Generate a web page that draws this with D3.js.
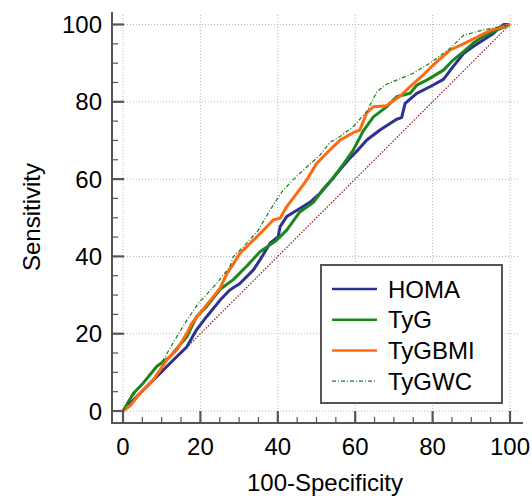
<!DOCTYPE html>
<html><head><meta charset="utf-8">
<script src="https://cdn.jsdelivr.net/npm/d3@7"></script>
<style>body{margin:0;background:#fff;} text{font-family:"Liberation Sans",Arial,sans-serif;}</style>
</head><body>
<svg id="c" width="532" height="497"></svg>
<script>
const seriesNames = ["HOMA", "TyG", "TyGBMI", "TyGWC"];
const xTicks = [0, 20, 40, 60, 80, 100];
const yTicks = [0, 20, 40, 60, 80, 100];
// [100-Specificity, Sensitivity]
const homa = [[0,0],[1,1.1],[3.5,3.7],[7.8,8],[13,13.2],[16.5,16.6],[19,21],[21.6,24.4],[25.1,28.7],[27.6,31.3],[30.2,33],[33.7,36.5],[35.4,39.1],[38,43.4],[40.1,45.1],[40.6,47.7],[42.3,50.3],[45.7,52.4],[48.3,54],[50.9,56.3],[53.5,59.3],[56.1,62.5],[58.7,65.5],[60.4,67.2],[63,70.1],[66.4,72.7],[70.7,75.5],[72,75.9],[72.9,79.6],[75.9,82.2],[79.3,83.9],[82.8,85.8],[85.3,89.1],[88,92.5],[90.5,94.3],[93.1,96],[95.7,97.7],[97.4,99.3],[98.4,100],[100,100]];
const tyg = [[0,0],[2.7,4.6],[5.2,7.2],[8.7,11.5],[12.1,14],[16.5,19.2],[19,24.4],[21.6,27],[25.1,31.5],[28.5,34],[32,37.5],[35.4,41.2],[39.7,44.2],[42.3,46.8],[45.7,51.5],[49.2,54],[51.8,57.5],[54.3,60.3],[56.9,63.8],[59.5,67.5],[62.1,72.5],[64.7,76.1],[68.1,78.7],[70.7,81.3],[74.2,82.2],[75.9,84.3],[78.5,85.6],[82.8,88.2],[85.3,90.8],[88,93],[90.5,95.2],[93.1,96.9],[95.7,98.2],[100,100]];
const tygbmi = [[0,0],[2,1.5],[4.4,4.6],[7.8,8],[11.3,13.2],[13.9,15.8],[16.5,20.1],[17.8,22.7],[19.9,25.3],[22,27.9],[25.1,31.8],[26.8,35.5],[28.5,38],[30.2,40.8],[33.7,44.2],[36.3,46.8],[38.8,49.4],[40.6,49.9],[42.3,52.9],[44.9,56.3],[47.5,59.8],[50,64],[52.6,66.7],[56.1,70.1],[59.5,72],[61.2,72.7],[63,77.2],[64.7,78.7],[68.1,79],[71.6,81.5],[74.2,83.9],[77.6,87],[81.1,90.4],[84.5,93.4],[88,95],[91.4,96.7],[94.8,98.4],[97.4,99.2],[100,100]];
const tygwc = [[0,0],[3,4.5],[6.5,8.9],[10.4,13.2],[13.4,18.4],[16.5,23.5],[19.5,27.9],[24.2,33],[27.6,37.3],[28.5,39.9],[31.1,42.5],[35,46.8],[38,52],[41.4,57.2],[45.7,61.5],[50.9,66.2],[53.5,69.5],[56.1,71],[59.5,73.6],[63,77.5],[65.6,82.6],[68,84.5],[70.7,85.6],[75,87.4],[79.3,90],[84.5,93.8],[88,97.2],[93.1,98.6],[97.4,99.4],[100,100]];
const diagonal = [[0,0],[100,100]];
const colors = ["#2e3092", "#1c881c", "#ff6a10", "#1a7a1a"];

const svg = d3.select("#c");
const x = d3.scaleLinear().domain([0,100]).range([123,510]);
const y = d3.scaleLinear().domain([0,100]).range([411,24.5]);
const plotL = 112, plotR = 520, plotT = 15, plotB = 423;

// grid
const grid = svg.append("g").attr("stroke","#b4b4b4").attr("stroke-width",1).attr("stroke-dasharray","1,2");
xTicks.forEach(t=>grid.append("line").attr("x1",x(t)).attr("x2",x(t)).attr("y1",plotT).attr("y2",plotB));
yTicks.forEach(t=>grid.append("line").attr("x1",plotL).attr("x2",plotR).attr("y1",y(t)).attr("y2",y(t)));

// diagonal
const line = d3.line().x(d=>x(d[0])).y(d=>y(d[1]));
svg.append("path").attr("d",line(diagonal)).attr("fill","none").attr("stroke","#a01818").attr("stroke-width",1.2).attr("stroke-dasharray","1.5,1.5");

// curves
const data = [homa, tyg, tygbmi, tygwc];
[0,1,2].forEach(i=>{
  svg.append("path").attr("d",line(data[i])).attr("fill","none").attr("stroke",colors[i]).attr("stroke-width",3).attr("stroke-linejoin","round");
});
svg.append("path").attr("d",line(data[3])).attr("fill","none").attr("stroke",colors[3]).attr("stroke-width",1.2).attr("stroke-dasharray","4,2,1,2");

// axes
const ax = svg.append("g").attr("stroke","#555");
ax.append("line").attr("x1",plotL).attr("x2",plotL).attr("y1",12).attr("y2",plotB+1).attr("stroke-width",2);
ax.append("line").attr("x1",plotL-1).attr("x2",523).attr("y1",plotB).attr("y2",plotB).attr("stroke-width",2);
d3.range(0,101,5).forEach(t=>{
  const major = t%20===0;
  ax.append("line").attr("x1",plotL).attr("x2",plotL+(major?12:6)).attr("y1",y(t)).attr("y2",y(t)).attr("stroke-width",major?2.2:1.2);
  ax.append("line").attr("y1",plotB).attr("y2",plotB-(major?12:6)).attr("x1",x(t)).attr("x2",x(t)).attr("stroke-width",major?2.2:1.2);
});
yTicks.forEach(t=>svg.append("text").attr("x",102).attr("y",y(t)+8.5).attr("text-anchor","end").attr("font-size",24).attr("fill","#000").text(t));
xTicks.forEach(t=>svg.append("text").attr("x",x(t)).attr("y",455).attr("text-anchor","middle").attr("font-size",24).attr("fill","#000").text(t));
svg.append("text").attr("x",325).attr("y",491).attr("text-anchor","middle").attr("font-size",24).text("100-Specificity");
svg.append("text").attr("transform","translate(40,217) rotate(-90)").attr("text-anchor","middle").attr("font-size",24).text("Sensitivity");

// legend
const lg = svg.append("g");
lg.append("rect").attr("x",321).attr("y",265).attr("width",181).attr("height",138).attr("fill","#fff").attr("stroke","#555").attr("stroke-width",2);
seriesNames.forEach((n,i)=>{
  const yy = 289 + i*30.7;
  const l = lg.append("line").attr("x1",332).attr("x2",377).attr("y1",yy).attr("y2",yy).attr("stroke",colors[i]).attr("stroke-width",i<3?2.5:1.2);
  if(i===3) l.attr("stroke-dasharray","4,2,1,2");
  lg.append("text").attr("x",388).attr("y",yy+8.5).attr("font-size",24).attr("fill","#000").text(n);
});
</script>
</body></html>
